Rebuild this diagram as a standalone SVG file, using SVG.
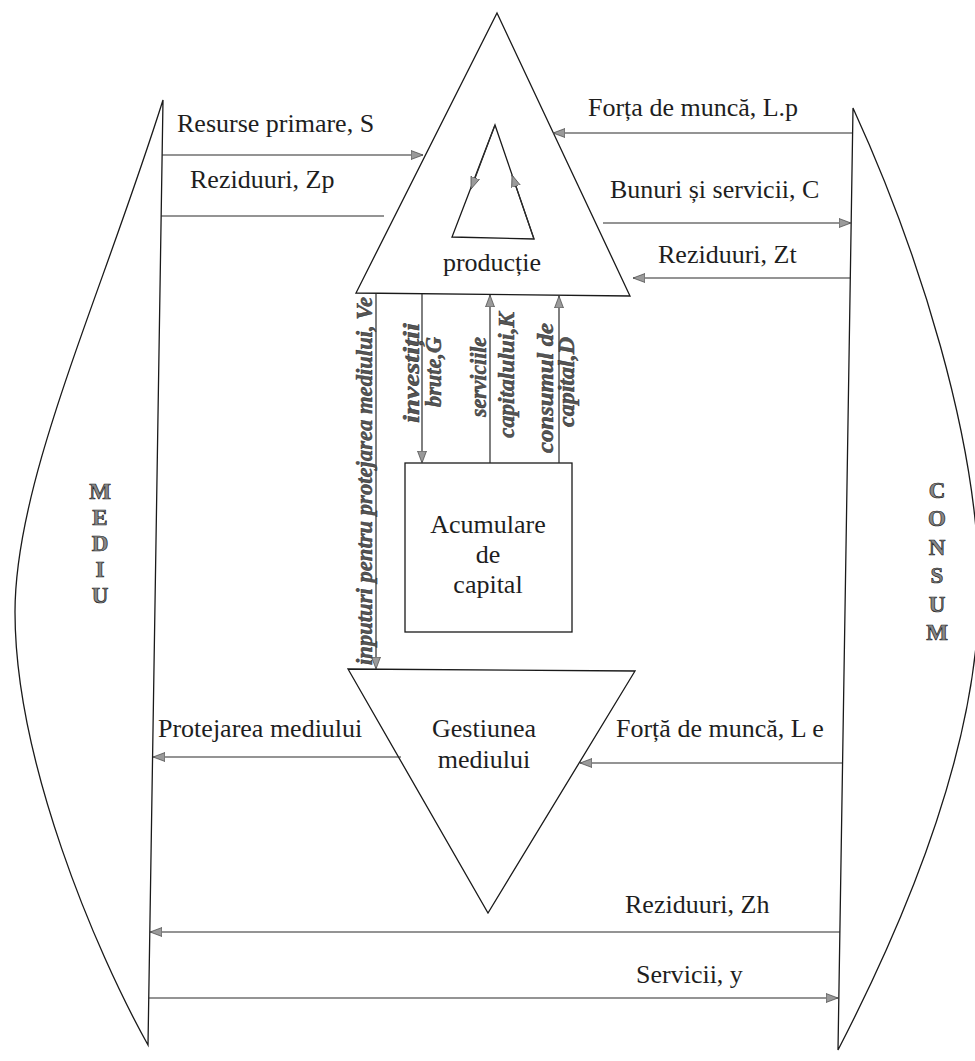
<svg xmlns="http://www.w3.org/2000/svg" width="975" height="1061" viewBox="0 0 975 1061">
<defs>
<style>
.shape{fill:none;stroke:#1a1a1a;stroke-width:1.3;stroke-linejoin:miter}
.conn{fill:none;stroke:#2a2a2a;stroke-width:1.2}
.lbl{font-family:"Liberation Serif","Times New Roman",serif;font-size:26px;fill:#1e1e1e}
.mid{text-anchor:middle}
.vlbl{font-family:"Liberation Serif","Times New Roman",serif;font-size:23px;font-style:italic;font-weight:bold;fill:#555;stroke:#222;stroke-width:0.4;text-anchor:middle}
.big{font-family:"Liberation Serif","Times New Roman",serif;font-size:23px;font-weight:bold;fill:#888;stroke:#222;stroke-width:0.7;text-anchor:middle}
</style>
<marker id="arr" markerUnits="userSpaceOnUse" markerWidth="13" markerHeight="11" refX="12" refY="5.5" orient="auto">
<path d="M0,1 L12,5.5 L0,10 Z" fill="#9a9a9a" stroke="#444" stroke-width="0.7"/>
</marker>
</defs>
<rect width="975" height="1061" fill="#fff"/>

<g id="mediu">
<path class="shape" d="M163,100 C 100,300 15,480 15,612 C 15,760 95,950 148,1045 Z"/>
<text class="big" x="100" y="499">M</text>
<text class="big" x="100" y="525">E</text>
<text class="big" x="100" y="551">D</text>
<text class="big" x="100" y="577">I</text>
<text class="big" x="100" y="603">U</text>
</g>

<g id="consum">
<path class="shape" d="M853,108 C 918,250 979,440 979,590 C 979,750 900,930 838,1050 Z"/>
<text class="big" x="937" y="498">C</text>
<text class="big" x="937" y="526">O</text>
<text class="big" x="937" y="555">N</text>
<text class="big" x="937" y="583">S</text>
<text class="big" x="937" y="612">U</text>
<text class="big" x="937" y="640">M</text>
</g>

<g id="productie">
<polygon class="shape" points="497,13 630,296 356,293"/>
<polygon class="shape" points="495,125 534,239 452,237"/>
<line class="conn" x1="495" y1="125" x2="471" y2="189" marker-end="url(#arr)"/>
<line class="conn" x1="534" y1="239" x2="512" y2="175" marker-end="url(#arr)"/>
<text class="lbl mid" x="492" y="271">producție</text>
</g>

<g id="acumulare">
<rect class="shape" x="405" y="463" width="167" height="169"/>
<text class="lbl mid" x="488" y="533">Acumulare</text>
<text class="lbl mid" x="488" y="563">de</text>
<text class="lbl mid" x="488" y="593">capital</text>
</g>

<g id="gestiune">
<polygon class="shape" points="348,669 635,671 488,913"/>
<text class="lbl mid" x="484" y="737">Gestiunea</text>
<text class="lbl mid" x="484" y="768">mediului</text>
</g>

<g id="connectors">
<line class="conn" x1="162" y1="155" x2="423" y2="155" marker-end="url(#arr)"/>
<line class="conn" x1="384" y1="216" x2="161" y2="216"/>
<line class="conn" x1="852" y1="133" x2="553" y2="133" marker-end="url(#arr)"/>
<line class="conn" x1="603" y1="223" x2="851" y2="223" marker-end="url(#arr)"/>
<line class="conn" x1="850" y1="278" x2="633" y2="278" marker-end="url(#arr)"/>
<line class="conn" x1="376" y1="294" x2="376" y2="669" marker-end="url(#arr)"/>
<line class="conn" x1="422" y1="294" x2="422" y2="463" marker-end="url(#arr)"/>
<line class="conn" x1="490" y1="463" x2="490" y2="295" marker-end="url(#arr)"/>
<line class="conn" x1="559" y1="463" x2="559" y2="296" marker-end="url(#arr)"/>
<line class="conn" x1="401" y1="757" x2="153" y2="757" marker-end="url(#arr)"/>
<line class="conn" x1="842" y1="763" x2="580" y2="763" marker-end="url(#arr)"/>
<line class="conn" x1="840" y1="932" x2="150" y2="932" marker-end="url(#arr)"/>
<line class="conn" x1="149" y1="998" x2="838" y2="998" marker-end="url(#arr)"/>

<text class="lbl" x="177" y="132">Resurse primare, S</text>
<text class="lbl" x="190" y="188">Reziduuri, Zp</text>
<text class="lbl" x="588" y="116">Forța de muncă, L.p</text>
<text class="lbl" x="610" y="198">Bunuri și servicii, C</text>
<text class="lbl" x="658" y="263">Reziduuri, Zt</text>
<text class="lbl" x="158" y="737">Protejarea mediului</text>
<text class="lbl" x="616" y="737">Forță de muncă, L e</text>
<text class="lbl" x="625" y="913">Reziduuri, Zh</text>
<text class="lbl" x="636" y="983">Servicii, y</text>

<text class="vlbl" transform="translate(372,481) rotate(-90)" textLength="368" lengthAdjust="spacingAndGlyphs">inputuri pentru protejarea mediului, Ve</text>
<text class="vlbl" transform="translate(419,373) rotate(-90)" textLength="100" lengthAdjust="spacingAndGlyphs">investiții</text>
<text class="vlbl" transform="translate(441,372) rotate(-90)" textLength="70" lengthAdjust="spacingAndGlyphs">brute,G</text>
<text class="vlbl" transform="translate(486,377) rotate(-90)" textLength="80" lengthAdjust="spacingAndGlyphs">serviciile</text>
<text class="vlbl" transform="translate(514,375) rotate(-90)" textLength="126" lengthAdjust="spacingAndGlyphs">capitalului,K</text>
<text class="vlbl" transform="translate(553,388) rotate(-90)" textLength="130" lengthAdjust="spacingAndGlyphs">consumul de</text>
<text class="vlbl" transform="translate(574,382) rotate(-90)" textLength="90" lengthAdjust="spacingAndGlyphs">capital,D</text>
</g>
</svg>
